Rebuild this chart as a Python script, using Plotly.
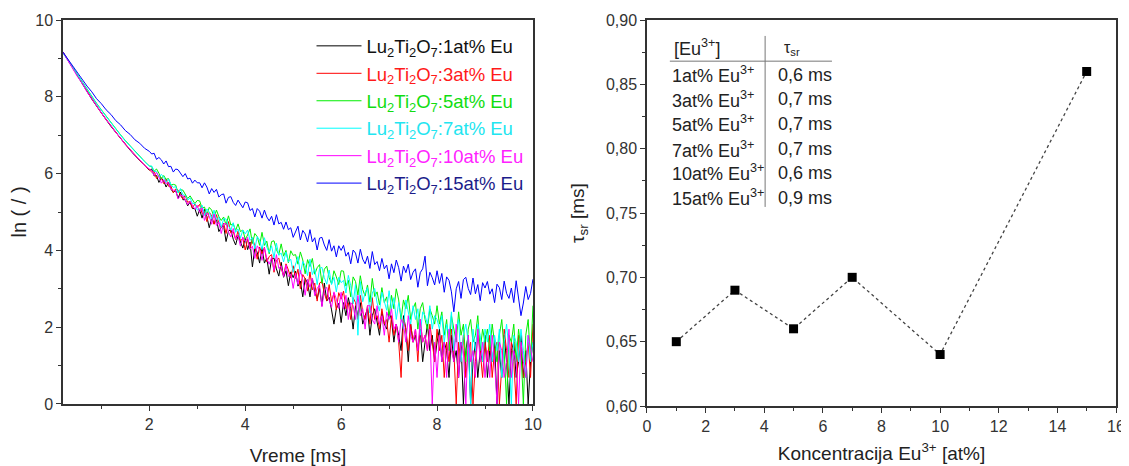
import plotly.graph_objects as go

# ---------------- data: decay curves (left panel) ----------------
time_ms = [0.2, 0.3, 0.4, 0.5, 0.6, 0.7, 0.8, 0.9, 1.0, 1.1, 1.2, 1.3, 1.4, 1.5, 1.6, 1.7, 1.8, 1.9, 2.0,
           2.05, 2.1, 2.15, 2.2, 2.25, 2.3, 2.35, 2.4, 2.45, 2.5, 2.55, 2.6, 2.65, 2.7, 2.75, 2.8, 2.85, 2.9, 2.95, 3.0,
           3.05, 3.1, 3.15, 3.2, 3.25, 3.3, 3.35, 3.4, 3.45, 3.5, 3.55, 3.6, 3.65, 3.7, 3.75, 3.8, 3.85, 3.9, 3.95, 4.0,
           4.05, 4.1, 4.15, 4.2, 4.25, 4.3, 4.35, 4.4, 4.45, 4.5, 4.55, 4.6, 4.65, 4.7, 4.75, 4.8, 4.85, 4.9, 4.95, 5.0,
           5.05, 5.1, 5.15, 5.2, 5.25, 5.3, 5.35, 5.4, 5.45, 5.5, 5.55, 5.6, 5.65, 5.7, 5.75, 5.8, 5.85, 5.9, 5.95, 6.0,
           6.05, 6.1, 6.15, 6.2, 6.25, 6.3, 6.35, 6.4, 6.45, 6.5, 6.55, 6.6, 6.65, 6.7, 6.75, 6.8, 6.85, 6.9, 6.95, 7.0,
           7.05, 7.1, 7.15, 7.2, 7.25, 7.3, 7.35, 7.4, 7.45, 7.5, 7.55, 7.6, 7.65, 7.7, 7.75, 7.8, 7.85, 7.9, 7.95, 8.0,
           8.05, 8.1, 8.15, 8.2, 8.25, 8.3, 8.35, 8.4, 8.45, 8.5, 8.55, 8.6, 8.65, 8.7, 8.75, 8.8, 8.85, 8.9, 8.95, 9.0,
           9.05, 9.1, 9.15, 9.2, 9.25, 9.3, 9.35, 9.4, 9.45, 9.5, 9.55, 9.6, 9.65, 9.7, 9.75, 9.8, 9.85, 9.9, 9.95, 10.0]

ln_1at = [9.17, 8.96, 8.74, 8.54, 8.34, 8.14, 7.94, 7.75, 7.57, 7.40, 7.23, 7.07, 6.91, 6.76, 6.61, 6.47, 6.34, 6.21, 6.09,
          6.12, 5.94, 5.95, 5.77, 5.89, 5.81, 5.65, 5.77, 5.60, 5.51, 5.56, 5.36, 5.52, 5.32, 5.32, 5.16, 5.26, 5.09, 5.09, 4.89,
          5.06, 4.84, 5.07, 4.88, 4.59, 4.85, 4.69, 4.82, 4.49, 4.60, 4.64, 4.23, 4.50, 4.54, 4.29, 4.14, 4.39, 4.24, 4.06, 4.32,
          4.02, 4.22, 3.57, 4.06, 3.95, 3.67, 4.08, 3.67, 3.80, 3.38, 3.78, 3.80, 3.52, 3.33, 3.69, 3.30, 3.47, 3.08, 3.44, 3.29,
          3.46, 3.07, 3.20, 2.79, 3.27, 3.15, 2.79, 3.27, 2.91, 2.74, 3.01, 2.56, 3.15, 2.68, 2.78, 2.45, 2.08, 2.48, 2.62, 2.12,
          2.64, 2.30, 2.77, 2.48, 1.95, 2.56, 2.30, 2.64, 2.08, 2.30, 2.48, 1.79, 2.30, 2.48, 2.08, 1.79, 2.40, 2.08, 1.95, 2.40,
          2.20, 1.61, 2.08, 1.79, 1.39, 2.30, 1.95, 1.10, 2.08, 1.61, 1.79, 1.39, 1.95, 1.10, 1.61, 2.08, 1.39, 1.79, 1.10, 1.61,
          1.95, 1.10, 1.61, 1.39, 0.69, 1.79, 1.10, 1.39, 0.69, 1.61, 0.00, 1.39, 1.79, 0.00, 1.10, 1.61, 0.69, 1.39, 1.10, 1.79,
          0.69, 1.39, 1.10, 1.61, 0.00, 1.39, 0.69, 1.79, 1.10, 0.00, 1.39, 1.61, 0.69, 1.10, 1.79, 0.69, 1.39, 0.00, 1.10, 1.61]

ln_3at = [9.15, 8.95, 8.75, 8.55, 8.34, 8.15, 7.95, 7.77, 7.58, 7.41, 7.24, 7.08, 6.92, 6.77, 6.62, 6.48, 6.35, 6.22, 6.11,
          6.04, 6.07, 5.87, 5.95, 5.88, 5.74, 5.86, 5.67, 5.68, 5.50, 5.60, 5.57, 5.43, 5.34, 5.43, 5.25, 5.28, 5.10, 5.21, 5.12,
          5.20, 4.96, 5.00, 4.75, 5.00, 4.90, 4.68, 4.93, 4.70, 4.59, 4.71, 4.44, 4.75, 4.45, 4.49, 4.28, 4.50, 4.25, 4.31, 4.01,
          4.29, 4.04, 4.32, 4.12, 3.77, 4.09, 3.91, 4.08, 3.70, 3.84, 3.89, 3.43, 3.74, 3.80, 3.52, 3.35, 3.65, 3.49, 3.28, 3.60,
          3.27, 3.51, 3.00, 3.37, 3.26, 2.94, 3.44, 2.97, 3.15, 2.68, 3.15, 3.19, 2.88, 2.69, 3.11, 2.67, 2.89, 2.45, 2.90, 2.73,
          2.94, 2.48, 2.64, 2.20, 2.77, 2.64, 2.20, 2.83, 2.40, 2.20, 2.56, 2.08, 2.77, 2.20, 2.30, 1.95, 2.48, 2.08, 2.20, 1.61,
          2.30, 1.79, 2.08, 1.61, 0.69, 2.20, 1.95, 1.39, 2.08, 1.61, 1.95, 1.10, 2.20, 1.61, 1.79, 1.39, 2.08, 1.61, 1.10, 1.95,
          1.39, 1.79, 0.69, 1.61, 1.10, 1.95, 1.39, 0.00, 1.61, 1.10, 1.79, 0.69, 1.39, 1.61, 0.00, 1.10, 1.79, 1.39, 0.69, 1.61,
          1.10, 1.79, 0.69, 1.39, 1.61, 0.00, 1.10, 1.95, 1.39, 0.69, 1.61, 1.10, 0.00, 1.79, 1.39, 0.69, 1.10, 1.61, 0.69, 2.08]

ln_5at = [9.15, 8.96, 8.76, 8.57, 8.38, 8.19, 8.01, 7.83, 7.66, 7.49, 7.33, 7.17, 7.01, 6.86, 6.72, 6.58, 6.45, 6.32, 6.20,
          6.18, 6.06, 6.12, 6.01, 5.87, 5.95, 5.85, 5.87, 5.70, 5.72, 5.70, 5.50, 5.58, 5.57, 5.44, 5.35, 5.42, 5.33, 5.22, 5.30,
          5.29, 5.10, 5.13, 4.93, 5.12, 5.05, 4.86, 5.05, 4.88, 4.78, 4.87, 4.66, 4.90, 4.66, 4.69, 4.52, 4.69, 4.49, 4.53, 4.29,
          4.40, 4.56, 4.18, 4.44, 4.36, 4.13, 4.47, 4.13, 4.24, 3.91, 4.23, 4.25, 4.02, 3.89, 4.17, 3.85, 4.00, 3.68, 3.99, 3.87,
          3.89, 3.64, 3.96, 3.75, 3.39, 3.76, 3.58, 3.79, 3.38, 3.55, 3.63, 3.14, 3.51, 3.59, 3.29, 3.13, 3.47, 3.31, 3.11, 3.47,
          3.46, 3.07, 3.22, 2.79, 3.31, 3.19, 2.84, 3.34, 2.98, 2.81, 3.10, 2.65, 3.27, 2.80, 2.92, 2.58, 3.03, 2.64, 2.79, 2.28,
          2.83, 2.48, 3.00, 2.71, 2.20, 2.71, 2.48, 2.83, 2.20, 2.48, 2.64, 1.95, 2.48, 2.64, 2.20, 1.95, 2.48, 2.30, 2.08, 2.56,
          2.08, 2.40, 1.79, 2.20, 1.39, 2.30, 1.95, 1.61, 2.40, 1.79, 2.08, 1.10, 1.95, 2.20, 1.61, 1.79, 2.30, 1.39, 1.95, 1.61,
          1.95, 1.39, 2.08, 1.61, 1.10, 1.79, 2.20, 1.39, 0.00, 1.79, 1.61, 2.08, 1.10, 1.95, 1.39, 0.00, 1.79, 2.20, 1.10, 2.56]

ln_7at = [9.14, 8.95, 8.76, 8.56, 8.37, 8.18, 8.00, 7.82, 7.65, 7.48, 7.32, 7.16, 7.00, 6.85, 6.71, 6.57, 6.44, 6.31, 6.19,
          6.20, 6.06, 6.05, 5.90, 5.98, 5.91, 5.77, 5.86, 5.72, 5.64, 5.66, 5.50, 5.61, 5.45, 5.43, 5.31, 5.37, 5.22, 5.22, 5.05,
          5.08, 5.18, 4.91, 5.08, 5.00, 4.81, 5.05, 4.79, 4.86, 4.60, 4.82, 4.82, 4.64, 4.53, 4.72, 4.47, 4.56, 4.32, 4.53, 4.43,
          4.53, 4.26, 4.34, 4.04, 4.36, 4.27, 4.02, 4.33, 4.08, 3.95, 4.12, 3.81, 4.19, 3.87, 3.93, 3.70, 3.96, 3.70, 3.77, 3.43,
          3.62, 3.84, 3.39, 3.71, 3.61, 3.34, 3.77, 3.37, 3.52, 3.11, 3.52, 3.56, 3.29, 3.12, 3.49, 3.11, 3.30, 2.92, 3.30, 3.16,
          3.22, 2.89, 3.35, 3.08, 2.61, 3.12, 1.79, 3.19, 2.66, 2.90, 3.03, 2.37, 2.89, 3.01, 2.63, 2.42, 2.91, 2.70, 2.44, 2.95,
          2.48, 2.77, 2.20, 2.64, 2.30, 1.95, 2.71, 2.40, 2.08, 2.56, 2.20, 2.48, 1.79, 2.40, 2.30, 2.08, 2.56, 1.95, 2.30, 2.20,
          1.95, 2.30, 1.61, 2.08, 1.79, 2.40, 1.39, 1.95, 2.20, 1.10, 1.79, 2.08, 1.61, 0.00, 1.95, 1.39, 2.08, 1.79, 1.10, 1.95,
          1.61, 2.08, 1.10, 1.79, 1.39, 1.95, 0.69, 1.61, 2.08, 1.39, 0.00, 1.79, 1.61, 1.10, 1.95, 1.39, 0.69, 1.79, 1.10, 1.61]

ln_10at = [9.16, 8.94, 8.75, 8.53, 8.35, 8.13, 7.95, 7.76, 7.58, 7.40, 7.25, 7.07, 6.93, 6.75, 6.63, 6.47, 6.36, 6.21, 6.12,
           6.08, 5.95, 6.03, 5.92, 5.75, 5.84, 5.73, 5.77, 5.59, 5.57, 5.56, 5.34, 5.43, 5.43, 5.29, 5.19, 5.28, 5.19, 5.07, 5.17,
           4.99, 5.11, 4.78, 4.98, 4.89, 4.68, 4.95, 4.65, 4.74, 4.44, 4.69, 4.70, 4.48, 4.35, 4.57, 4.29, 4.39, 4.11, 4.35, 4.23,
           4.34, 4.03, 4.11, 3.79, 4.12, 4.02, 3.74, 4.07, 3.79, 3.64, 3.82, 3.48, 3.89, 3.53, 3.59, 3.32, 3.62, 3.32, 3.39, 3.01,
           3.40, 3.11, 3.48, 3.24, 2.83, 3.25, 3.04, 3.28, 2.82, 3.01, 3.10, 2.53, 2.96, 3.04, 2.71, 2.52, 2.92, 2.73, 2.49, 2.91,
           2.48, 2.83, 2.20, 2.64, 2.56, 2.20, 2.83, 2.30, 2.48, 1.95, 2.56, 2.56, 2.20, 2.08, 2.56, 2.08, 2.30, 1.79, 2.40, 2.20,
           2.48, 1.95, 2.08, 1.61, 2.20, 2.08, 1.61, 2.30, 1.79, 1.61, 1.95, 1.39, 2.20, 1.61, 1.79, 1.39, 1.95, 0.00, 1.61, 0.69,
           1.79, 1.10, 1.61, 0.69, 1.95, 1.39, 1.10, 2.08, 0.69, 1.61, 1.39, 0.00, 1.79, 1.10, 1.39, 0.69, 1.95, 1.10, 1.61, 0.69,
           1.39, 0.69, 1.79, 1.10, 0.00, 1.61, 1.39, 0.69, 1.10, 1.95, 0.69, 1.39, 1.10, 0.00, 1.61, 1.10, 0.69, 1.79, 1.39, 1.10]

ln_15at = [9.16, 8.98, 8.81, 8.62, 8.47, 8.28, 8.13, 7.95, 7.82, 7.66, 7.54, 7.38, 7.27, 7.12, 7.02, 6.88, 6.79, 6.66, 6.58,
           6.51, 6.53, 6.37, 6.42, 6.36, 6.25, 6.33, 6.18, 6.19, 6.04, 6.12, 6.10, 6.00, 5.92, 6.00, 5.86, 5.88, 5.75, 5.83, 5.76,
           5.76, 5.63, 5.76, 5.65, 5.47, 5.61, 5.51, 5.59, 5.39, 5.45, 5.47, 5.23, 5.38, 5.40, 5.25, 5.17, 5.31, 5.22, 5.11, 5.26,
           5.24, 5.04, 5.09, 4.87, 5.09, 5.02, 4.84, 5.05, 4.87, 4.77, 4.89, 4.66, 4.93, 4.69, 4.73, 4.55, 4.74, 4.54, 4.59, 4.34,
           4.47, 4.63, 4.27, 4.52, 4.43, 4.22, 4.54, 4.22, 4.33, 4.01, 4.32, 4.34, 4.14, 4.00, 4.28, 3.98, 4.12, 3.83, 4.12, 4.00,
           4.13, 3.85, 3.95, 3.65, 4.01, 3.93, 3.67, 4.03, 3.77, 3.65, 3.85, 3.53, 3.97, 3.63, 3.71, 3.47, 3.79, 3.52, 3.62, 3.26,
           3.65, 3.42, 3.75, 3.55, 3.20, 3.59, 3.42, 3.64, 3.24, 3.43, 3.52, 3.04, 3.42, 3.52, 3.85, 3.08, 3.43, 3.29, 3.10, 3.47,
           3.14, 3.40, 2.91, 3.31, 3.22, 2.92, 2.40, 3.00, 3.19, 2.75, 3.24, 3.30, 3.01, 2.85, 3.28, 2.87, 3.11, 2.69, 3.16, 3.02,
           3.19, 2.86, 3.00, 2.64, 3.12, 3.03, 2.72, 3.20, 2.88, 2.75, 3.02, 2.64, 3.21, 2.79, 2.30, 2.63, 3.06, 2.72, 2.88, 3.25]

series_labels = ["1at%", "3at%", "5at%", "7at%", "10at%", "15at%"]
series_values = [ln_1at, ln_3at, ln_5at, ln_7at, ln_10at, ln_15at]
line_colors = ["#000000", "#ff0000", "#00ee00", "#00ffff", "#ff00ff", "#0000ff"]
text_colors = ["#111111", "#ff1a1a", "#11dd11", "#22e5f0", "#ff22ff", "#1c1c8a"]

for v in series_values:
    assert len(v) == len(time_ms), (len(v), len(time_ms))

# ---------------- data: lifetime vs concentration (right panel) ----------------
conc_at = [1, 3, 5, 7, 10, 15]
tau_ms = [0.65, 0.69, 0.66, 0.70, 0.64, 0.86]

table_conc = ["1at% Eu<sup>3+</sup>", "3at% Eu<sup>3+</sup>", "5at% Eu<sup>3+</sup>",
              "7at% Eu<sup>3+</sup>", "10at% Eu<sup>3+</sup>", "15at% Eu<sup>3+</sup>"]
table_tau = ["0,6 ms", "0,7 ms", "0,7 ms", "0,7 ms", "0,6 ms", "0,9 ms"]

FONT = "Liberation Sans, Arial, sans-serif"
AX = "#333333"
TXT = "#222222"

fig = go.Figure()

for i, (lab, vals, lc, tc) in enumerate(zip(series_labels, series_values, line_colors, text_colors)):
    fig.add_trace(go.Scatter(
        x=time_ms, y=vals, mode="lines",
        line=dict(color=lc, width=1),
        name=f"<span style='color:{tc}'>Lu<sub>2</sub>Ti<sub>2</sub>O<sub>7</sub>:{lab} Eu</span>",
        legendgroup=f"g{i}",
        xaxis="x", yaxis="y",
    ))

fig.add_trace(go.Scatter(
    x=conc_at, y=tau_ms, mode="lines+markers",
    line=dict(color="#444444", width=1.3, dash="dot"),
    marker=dict(symbol="square", size=9, color="#000000"),
    showlegend=False, xaxis="x2", yaxis="y2",
))

axis_common = dict(
    showline=True, linecolor=AX, linewidth=1.5, mirror=True,
    ticks="outside", ticklen=5, tickwidth=1.2, tickcolor=AX,
    showgrid=False, zeroline=False, automargin=False,
    tickfont=dict(family=FONT, size=16, color="#333333"),
)

# the page body adds an 8 px offset, so the figure is 8 px smaller and margins are shifted
fig.update_layout(
    width=1121, height=458,
    margin=dict(l=55, r=13, t=12, b=60, autoexpand=False),
    paper_bgcolor="white", plot_bgcolor="white",
    separators=", ",
    font=dict(family=FONT, color=TXT),
    xaxis=dict(domain=[0, 0.4463], range=[0.2, 10], dtick=2, tick0=0,
               minor=dict(dtick=1, tick0=0, ticklen=3, tickcolor=AX, ticks="outside"),
               title=dict(text="Vreme [ms]", font=dict(family=FONT, size=19, color=TXT), standoff=17),
               anchor="y", **axis_common),
    yaxis=dict(domain=[0.0052, 1], range=[0, 10], dtick=2, tick0=0,
               minor=dict(dtick=1, tick0=0, ticklen=3, tickcolor=AX, ticks="outside"),
               title=dict(text="ln ( / )", font=dict(family=FONT, size=20, color=TXT), standoff=10),
               anchor="x", **axis_common),
    xaxis2=dict(domain=[0.5546, 1], range=[0, 16], dtick=2, tick0=0,
                minor=dict(dtick=1, tick0=0, ticklen=3, tickcolor=AX, ticks="outside"),
                title=dict(text="Koncentracija Eu<sup>3+</sup> [at%]", font=dict(family=FONT, size=19, color=TXT), standoff=13),
                anchor="y2", **axis_common),
    yaxis2=dict(domain=[0, 1], range=[0.60, 0.90], dtick=0.05, tick0=0.6, tickformat=".2f",
                minor=dict(dtick=0.025, tick0=0.6, ticklen=3, tickcolor=AX, ticks="outside"),
                title=dict(text="τ<sub>sr</sub> [ms]", font=dict(family=FONT, size=19, color=TXT), standoff=16),
                anchor="x2", **axis_common),
    legend=dict(x=0.236, y=0.981, xanchor="left", yanchor="top",
                bgcolor="rgba(0,0,0,0)", borderwidth=0,
                font=dict(family=FONT, size=18.5), itemwidth=45, tracegroupgap=0.4),
)

# ---------------- inset table (right panel) ----------------
row_y = [0.8573, 0.8386, 0.8192, 0.7997, 0.7811, 0.7617]
ann = [
    dict(x=1.71, y=0.879, text="[Eu<sup>3+</sup>]", showarrow=False, xref="x2", yref="y2",
         xanchor="center", yanchor="middle", font=dict(family=FONT, size=18, color=TXT)),
    dict(x=4.95, y=0.878, text="τ<sub>sr</sub>", showarrow=False, xref="x2", yref="y2",
         xanchor="center", yanchor="middle", font=dict(family=FONT, size=16, color=TXT)),
]
for yv, c, t in zip(row_y, table_conc, table_tau):
    ann.append(dict(x=0.78, y=yv, text=c, showarrow=False, xref="x2", yref="y2",
                    xanchor="left", yanchor="middle", font=dict(family=FONT, size=18, color=TXT)))
    ann.append(dict(x=4.4, y=yv, text=t, showarrow=False, xref="x2", yref="y2",
                    xanchor="left", yanchor="middle", font=dict(family=FONT, size=18, color=TXT)))
fig.update_layout(annotations=ann)

fig.add_shape(type="line", xref="x2", yref="y2", x0=0.78, x1=6.31, y0=0.868, y1=0.868,
              line=dict(color="#777777", width=1))
fig.add_shape(type="line", xref="x2", yref="y2", x0=4.03, x1=4.03, y0=0.8876, y1=0.7547,
              line=dict(color="#777777", width=1))

fig.write_html("out.html")
